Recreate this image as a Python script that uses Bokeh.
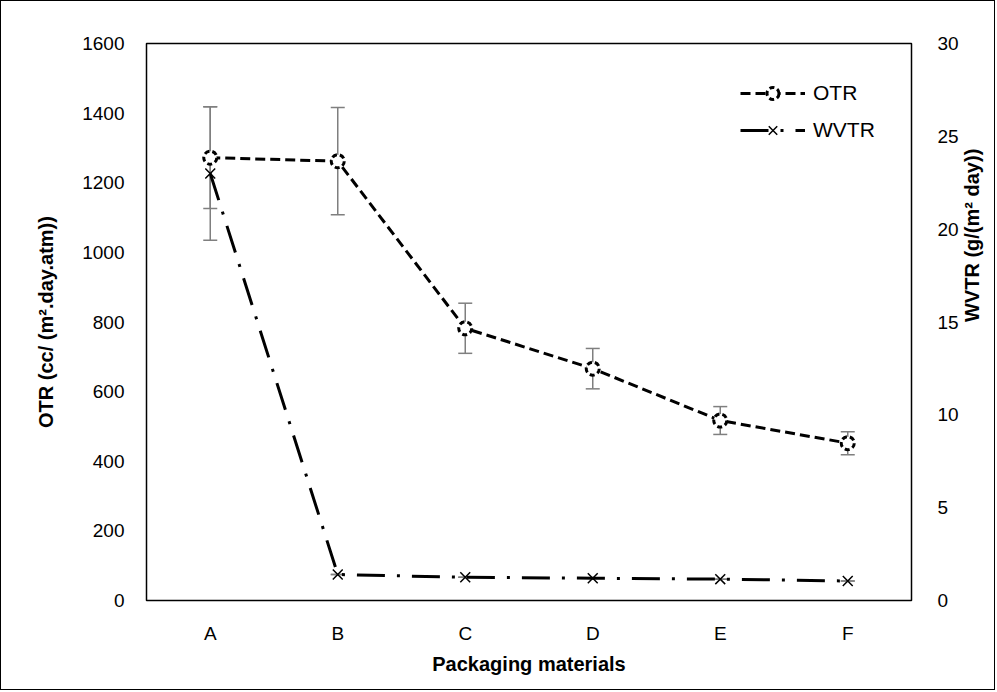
import math
from bokeh.plotting import figure
from bokeh.models import (Range1d, LinearAxis, FixedTicker, Whisker, TeeHead,
                          ColumnDataSource, Legend, LegendItem)
from bokeh.embed import file_html
from bokeh.resources import INLINE

categories = ["A", "B", "C", "D", "E", "F"]
otr = [1272, 1262, 782, 666, 517, 452]
otr_err = [146, 154, 72, 58, 40, 33]
wvtr = [23.0, 1.4, 1.25, 1.2, 1.15, 1.05]
wvtr_err = [3.6, 0, 0, 0, 0, 0]
left_ticks = [0, 200, 400, 600, 800, 1000, 1200, 1400, 1600]
right_ticks = [0, 5, 10, 15, 20, 25, 30]

FONT = "Liberation Sans"
GRAY = "#7f7f7f"

p = figure(x_range=categories, y_range=Range1d(0, 1600), width=995, height=690,
           output_backend="svg", toolbar_location=None,
           min_border_left=145, min_border_right=84, min_border_top=42, min_border_bottom=91)
p.extra_y_ranges = {"w": Range1d(0, 30)}
p.grid.visible = False
p.outline_line_color = "black"
p.outline_line_width = 1.5
p.background_fill_color = "white"
p.border_fill_color = "white"
p.styles = {"border": "1px solid black"}

src_o = ColumnDataSource(dict(x=categories, y=otr,
                              up=[v + e for v, e in zip(otr, otr_err)],
                              lo=[v - e for v, e in zip(otr, otr_err)]))
src_w = ColumnDataSource(dict(x=categories, y=wvtr,
                              up=[v + e for v, e in zip(wvtr, wvtr_err)],
                              lo=[v - e for v, e in zip(wvtr, wvtr_err)]))

# error bars
wo = Whisker(source=src_o, base="x", upper="up", lower="lo", line_color=GRAY, line_width=1.5,
             upper_head=TeeHead(size=14, line_color=GRAY, line_width=1.5),
             lower_head=TeeHead(size=14, line_color=GRAY, line_width=1.5))
ww = Whisker(source=src_w, base="x", upper="up", lower="lo", line_color=GRAY, line_width=1.5,
             y_range_name="w",
             upper_head=TeeHead(size=14, line_color=GRAY, line_width=1.5),
             lower_head=TeeHead(size=14, line_color=GRAY, line_width=1.5))
p.add_layout(wo)
p.add_layout(ww)

l1 = p.line("x", "y", source=src_o, line_color="black", line_width=3, line_dash="10 5")
m1 = p.scatter("x", "y", source=src_o, marker="circle", size=13, fill_color="white",
               line_color="black", line_width=3, line_dash="5 3")
l2 = p.line("x", "y", source=src_w, y_range_name="w", line_color="black", line_width=3,
            line_dash="28 12 3 12")
m2 = p.scatter("x", "y", source=src_w, y_range_name="w", marker="x", size=14,
               line_color="black", line_width=1.5)

# axes
p.yaxis.ticker = FixedTicker(ticks=left_ticks)
right = LinearAxis(y_range_name="w", ticker=FixedTicker(ticks=right_ticks))
p.add_layout(right, "right")

p.xaxis.axis_label = "Packaging materials"
p.yaxis[0].axis_label = "OTR (cc/ (m\u00b2.day.atm))"
right.axis_label = "WVTR  (g/(m\u00b2 day))"
right.axis_label_orientation = math.pi / 2

for ax in [p.xaxis[0], p.yaxis[0], right]:
    ax.axis_line_color = None
    ax.major_tick_line_color = None
    ax.minor_tick_line_color = None
    ax.major_label_text_font = FONT
    ax.major_label_text_font_size = "19px"
    ax.major_label_text_color = "black"
    ax.axis_label_text_font = FONT
    ax.axis_label_text_font_size = "20px"
    ax.axis_label_text_font_style = "bold"
    ax.axis_label_text_color = "black"

right.axis_label_text_align = "center"

p.xaxis.major_label_standoff = 16
p.xaxis.axis_label_standoff = 6
p.yaxis[0].major_label_standoff = 16
p.yaxis[0].axis_label_standoff = 22
right.major_label_standoff = 20
right.axis_label_standoff = 10

legend = Legend(items=[LegendItem(label="OTR", renderers=[l1, m1]),
                       LegendItem(label="WVTR", renderers=[l2, m2])],
                location=(594, 455), border_line_color=None, background_fill_alpha=0,
                padding=0, margin=0, spacing=7, glyph_width=65, glyph_height=30,
                label_height=30, label_standoff=8, label_text_font=FONT,
                label_text_font_size="21px", label_text_color="black")
p.add_layout(legend)

open("out.html", "w").write(file_html(p, INLINE))
